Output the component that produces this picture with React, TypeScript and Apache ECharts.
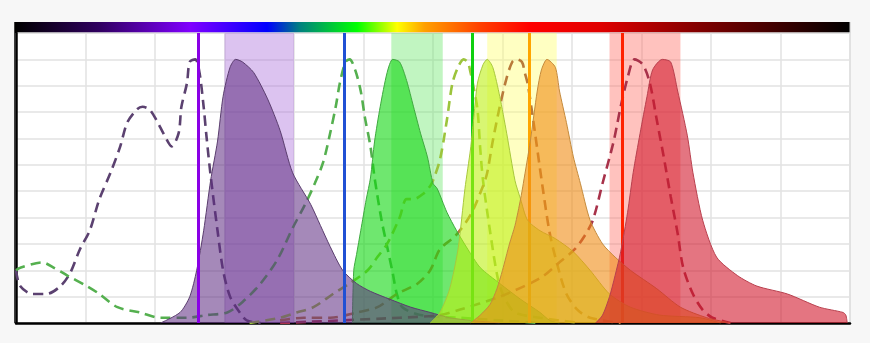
import React, { useEffect, useRef } from "react";
import * as echarts from "echarts";

// wavelength (nm) vs normalized intensity (%)
const purpleEx = [[300,20],[303,14],[312,11],[322,11],[332,14],[339,19],[346,28],[353,35],[360,47],[368,57],[375,67],[380,76],[387,81],[391,82],[396,81],[401,77],[407,71],[412,67],[417,72],[419,82],[423,91],[425,99],[429,100],[432,95],[435,82],[437,71],[440,56],[445,35],[449,20],[454,10],[461,4],[466,1],[476,0]];
const purpleEm = [[404,0],[418,4],[425,10],[430,20],[435,35],[440,54],[445,69],[449,86],[454,97],[458,100],[463,99],[471,95],[481,85],[490,73],[499,57],[512,45],[519,37],[526,29],[535,20],[545,15],[555,12],[569,9],[584,6],[598,4],[612,2],[627,1],[648,0]];
const greenEx = [[300,20],[303,21],[319,23],[327,21],[337,18],[351,14],[360,11],[373,6],[389,4],[404,2],[423,2],[437,3],[452,4],[463,8],[476,15],[488,24],[499,36],[508,45],[515,53],[521,61],[526,72],[530,82],[533,91],[537,99],[540,100],[544,96],[548,88],[551,78],[555,67],[558,55],[563,39],[567,29],[571,19],[574,11],[578,6],[591,3],[619,2],[648,1],[677,0]];
const greenEm = [[542,0],[543,20],[545,26],[548,35],[552,47],[555,55],[558,69],[562,82],[567,95],[571,100],[576,99],[581,92],[586,82],[591,72],[596,63],[600,53],[603,51],[610,42],[617,35],[625,28],[634,21],[648,15],[663,9],[677,4],[684,1],[691,0]];
const yellowEx = [[468,0],[490,2],[502,4],[514,6],[528,11],[540,15],[553,20],[560,25],[567,30],[576,40],[581,47],[586,47],[593,49],[598,52],[600,54],[605,62],[610,77],[614,91],[618,97],[622,100],[625,99],[627,95],[629,90],[632,81],[634,66],[636,54],[641,35],[647,16],[652,9],[659,4],[677,2],[706,0]];
const yellowEm = [[598,0],[605,4],[612,13],[618,28],[623,51],[627,66],[629,76],[632,91],[636,98],[639,100],[643,97],[648,86],[653,72],[659,54],[663,47],[668,39],[677,35],[688,32],[701,27],[713,20],[727,11],[742,6],[763,3],[792,2],[807,0]];
const orangeEx = [[490,1],[507,2],[526,2],[545,4],[560,6],[574,11],[589,15],[598,20],[605,28],[616,33],[627,41],[636,52],[639,57],[643,69],[648,82],[653,93],[657,99],[660,100],[664,99],[666,95],[668,91],[671,81],[675,66],[679,51],[684,34],[689,23],[696,11],[704,5],[713,2],[735,0]];
const orangeEm = [[627,0],[634,3],[641,7],[646,13],[650,20],[655,30],[659,37],[663,47],[665,53],[670,69],[675,88],[678,96],[682,100],[688,97],[691,88],[696,76],[701,63],[706,53],[713,39],[722,30],[731,25],[742,20],[761,13],[778,6],[797,2],[814,0]];
const redEx = [[490,0],[576,2],[605,3],[619,5],[648,10],[677,17],[691,23],[702,28],[709,33],[715,39],[722,53],[730,69],[735,82],[740,93],[745,100],[751,98],[756,91],[761,77],[766,63],[771,48],[776,34],[780,21],[787,11],[794,5],[801,2],[814,0]];
const redEm = [[717,0],[722,3],[727,10],[731,18],[735,27],[740,42],[744,57],[749,72],[754,86],[758,96],[765,100],[771,99],[776,88],[783,71],[787,57],[794,39],[804,25],[819,18],[833,14],[855,11],[878,6],[895,4],[897,3],[898,0]];

// filter bands [from, to] in nm
const bands = [[450, 500], [570, 607], [639, 689], [727, 778]];
const bandColors = ["rgba(167,105,217,0.4)", "rgba(100,230,100,0.4)", "rgba(255,255,110,0.42)", "rgba(255,110,100,0.42)"];
// laser lines in nm
const lasers = [431, 536, 628, 669, 736];
const laserColors = ["#8a00e6", "#2050d4", "#10d010", "#ffa500", "#ff2200"];

const X_MIN = 300;
const X_MAX = 900;
const X_STEP = 50;
const Y_MIN = 0;
const Y_MAX = 110;
const Y_STEP = 10;

export default function App() {
  const ref = useRef<HTMLDivElement>(null);
  useEffect(() => {
    if (!ref.current) return;
    const chart = echarts.init(ref.current, undefined, { renderer: "svg" });

    const exSeries = (data: number[][], color: string) => ({
      type: "line",
      data,
      showSymbol: false,
      smooth: 0.3,
      z: 2,
      silent: true,
      lineStyle: { color, width: 2.6, type: [10, 6] },
    });
    const emSeries = (data: number[][], stroke: string, fill: string, z: number) => ({
      type: "line",
      data,
      showSymbol: false,
      smooth: 0.25,
      z,
      silent: true,
      lineStyle: { color: stroke, width: 1 },
      areaStyle: { color: fill, opacity: 1 },
    });

    const option: any = {
      animation: false,
      backgroundColor: "#f7f7f7",
      grid: {
        left: 16,
        right: 20,
        top: 33,
        bottom: 20,
        show: true,
        backgroundColor: "#ffffff",
        borderColor: "#c4c4c4",
        borderWidth: 1,
      },
      xAxis: {
        type: "value",
        min: X_MIN,
        max: X_MAX,
        interval: X_STEP,
        axisLabel: { show: false },
        axisTick: { show: false },
        axisLine: { show: true, onZero: false, lineStyle: { color: "#000", width: 2.5 } },
        splitLine: { show: true, lineStyle: { color: "#e2e2e2", width: 1.5 } },
      },
      yAxis: {
        type: "value",
        min: Y_MIN,
        max: Y_MAX,
        interval: Y_STEP,
        axisLabel: { show: false },
        axisTick: { show: false },
        axisLine: { show: true, lineStyle: { color: "#000", width: 2.5 } },
        splitLine: { show: true, lineStyle: { color: "#e2e2e2", width: 1.5 } },
      },
      graphic: [
        {
          type: "rect",
          shape: { x: 16, y: 22, width: 834, height: 11 },
          style: {
            fill: new echarts.graphic.LinearGradient(0, 0, 1, 0, [
              { offset: 0, color: "#000000" },
              { offset: 0.1, color: "#300060" },
              { offset: 0.209, color: "#8000ff" },
              { offset: 0.301, color: "#0000ff" },
              { offset: 0.34, color: "#008080" },
              { offset: 0.409, color: "#00ff00" },
              { offset: 0.457, color: "#ffff00" },
              { offset: 0.49, color: "#ffa000" },
              { offset: 0.556, color: "#ff4000" },
              { offset: 0.616, color: "#ff0000" },
              { offset: 0.7, color: "#e00000" },
              { offset: 0.82, color: "#800000" },
              { offset: 1, color: "#000000" },
            ]),
          },
        },
        {
          type: "line",
          shape: { x1: 15.5, y1: 22, x2: 15.5, y2: 323 },
          style: { stroke: "#000", lineWidth: 2.5 },
        },
        {
          type: "line",
          shape: { x1: 850, y1: 22, x2: 850, y2: 33 },
          style: { stroke: "#c4c4c4", lineWidth: 1 },
        },
      ],
      series: [
        {
          type: "line",
          data: [],
          z: 1,
          silent: true,
          markArea: {
            silent: true,
            data: bands.map((b, i) => [
              { xAxis: b[0], itemStyle: { color: bandColors[i] } },
              { xAxis: b[1] },
            ]),
          },
        },
        exSeries(purpleEx, "#5b4170"),
        exSeries(greenEx, "#55b04f"),
        exSeries(yellowEx, "#9cc43c"),
        exSeries(orangeEx, "#b97a3a"),
        exSeries(redEx, "#a8324a"),
        emSeries(greenEm, "#3fa83f", "rgba(15,215,15,0.6)", 3),
        emSeries(purpleEm, "#5a3d6e", "rgba(95,45,130,0.56)", 4),
        emSeries(yellowEm, "#a8c83c", "rgba(190,240,20,0.6)", 5),
        emSeries(orangeEm, "#c48a3c", "rgba(240,140,20,0.6)", 6),
        emSeries(redEm, "#b8404e", "rgba(210,25,45,0.6)", 7),
        {
          type: "line",
          data: [],
          z: 10,
          silent: true,
          markLine: {
            silent: true,
            symbol: ["none", "none"],
            label: { show: false },
            data: lasers.map((v, i) => ({
              xAxis: v,
              lineStyle: { color: laserColors[i], width: 3, type: "solid" },
            })),
          },
        },
      ],
    };
    chart.setOption(option);
    return () => chart.dispose();
  }, []);
  return (
    <div
      ref={ref}
      style={{ position: "fixed", left: 0, top: 0, width: 870, height: 343 }}
    />
  );
}
